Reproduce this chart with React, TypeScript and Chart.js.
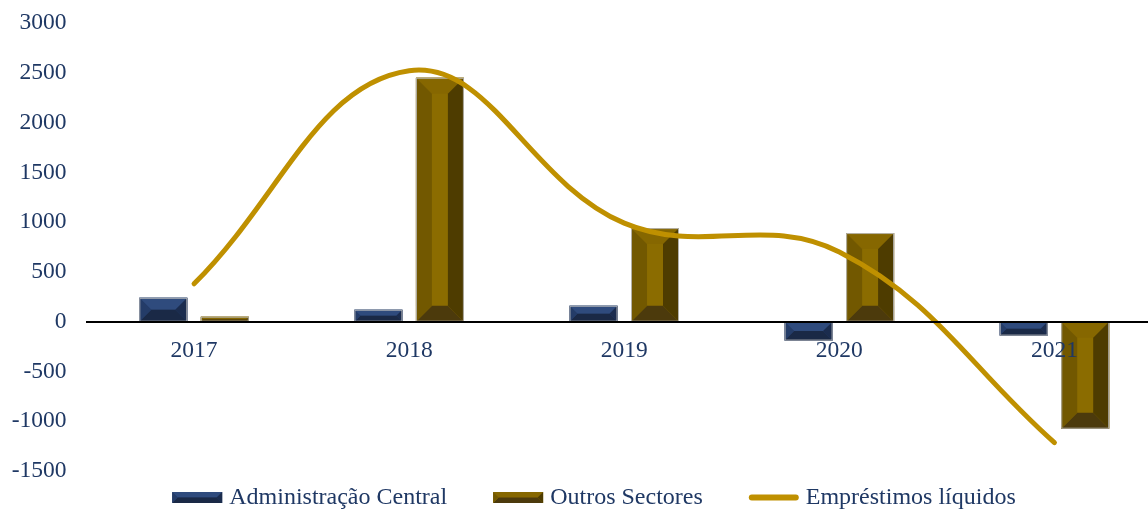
import React, { useEffect, useRef } from 'react';
import { Chart, registerables } from 'chart.js';

Chart.register(...registerables);

// ---- data ----
const categories = ['2017', '2018', '2019', '2020', '2021'];
const adminCentral = [240, 120, 160, -190, -140];
const outrosSectores = [50, 2450, 940, 890, -1075];
const emprestimosLiquidos = [380, 2520, 990, 700, -1215];
const seriesNames = ['Administração Central', 'Outros Sectores', 'Empréstimos líquidos'];
const yMin = -1500;
const yMax = 3000;
const yStep = 500;

// ---- style ----
const FONT = '"Liberation Serif", "Times New Roman", serif';
const FONT_SIZE = 23.5;
const LEGEND_FONT_SIZE = 24;
const TEXT_COLOR = '#1F3864';
const LINE_COLOR = '#BF9000';

type Palette = { front: string; top: string; left: string; right: string; bottom: string };
const adminPalette: Palette = { front: '#253D69', top: '#2F4B7D', left: '#243C68', right: '#1B2C4E', bottom: '#1A2946' };
const outrosPalette: Palette = { front: '#8B6C00', top: '#866700', left: '#725800', right: '#4E3C00', bottom: '#4C3A0C' };

function poly(ctx: CanvasRenderingContext2D, pts: number[][], color: string) {
  ctx.beginPath();
  ctx.moveTo(pts[0][0], pts[0][1]);
  for (let i = 1; i < pts.length; i++) ctx.lineTo(pts[i][0], pts[i][1]);
  ctx.closePath();
  ctx.fillStyle = color;
  ctx.fill();
}

function drawBevel(ctx: CanvasRenderingContext2D, l: number, t: number, r: number, bt: number, pal: Palette, maxB: number, border: boolean) {
  const w = r - l;
  const h = bt - t;
  if (w <= 0 || h <= 0) return;
  const b = Math.max(0, Math.min(maxB, w / 2, h / 2));
  ctx.save();
  ctx.fillStyle = pal.front;
  ctx.fillRect(l, t, w, h);
  poly(ctx, [[l, t], [r, t], [r - b, t + b], [l + b, t + b]], pal.top);
  poly(ctx, [[l, bt], [r, bt], [r - b, bt - b], [l + b, bt - b]], pal.bottom);
  poly(ctx, [[l, t], [l + b, t + b], [l + b, bt - b], [l, bt]], pal.left);
  poly(ctx, [[r, t], [r - b, t + b], [r - b, bt - b], [r, bt]], pal.right);
  if (border) {
    ctx.strokeStyle = 'rgba(190,190,190,0.9)';
    ctx.lineWidth = 1;
    ctx.strokeRect(l + 0.5, t + 0.5, w - 1, h - 1);
  }
  ctx.restore();
}

const bevelPlugin = {
  id: 'bevelBars',
  afterDatasetDraw(chart: any, args: any) {
    const meta = args.meta;
    if (meta.type !== 'bar') return;
    const pal = args.index === 0 ? adminPalette : outrosPalette;
    const ctx = chart.ctx as CanvasRenderingContext2D;
    meta.data.forEach((el: any) => {
      const { x, y, base, width } = el.getProps(['x', 'y', 'base', 'width'], true);
      const l = x - width / 2;
      const r = x + width / 2;
      const t = Math.min(y, base);
      const bt = Math.max(y, base);
      drawBevel(ctx, l, t, r, bt, pal, width / 3, true);
    });
  },
};

const legendPlugin = {
  id: 'customLegend',
  afterDraw(chart: any) {
    const ctx = chart.ctx as CanvasRenderingContext2D;
    ctx.save();
    ctx.font = `${LEGEND_FONT_SIZE}px ${FONT}`;
    const boxW = 50;
    const boxH = 11;
    const gap = 7;
    const spacing = 46;
    const widths = seriesNames.map((n) => ctx.measureText(n).width);
    const total = widths.reduce((a, w) => a + boxW + gap + w, 0) + spacing * (seriesNames.length - 1);
    let x = 594 - total / 2;
    const cy = 497.5;
    seriesNames.forEach((name, i) => {
      if (i === 0) drawBevel(ctx, x, cy - boxH / 2, x + boxW, cy + boxH / 2, adminPalette, boxH / 2, false);
      else if (i === 1) drawBevel(ctx, x, cy - boxH / 2, x + boxW, cy + boxH / 2, outrosPalette, boxH / 2, false);
      else {
        ctx.beginPath();
        ctx.strokeStyle = LINE_COLOR;
        ctx.lineWidth = 6;
        ctx.lineCap = 'round';
        ctx.moveTo(x + 3, cy);
        ctx.lineTo(x + boxW - 3, cy);
        ctx.stroke();
      }
      ctx.fillStyle = TEXT_COLOR;
      ctx.textBaseline = 'middle';
      ctx.textAlign = 'left';
      ctx.fillText(name, x + boxW + gap, cy);
      x += boxW + gap + widths[i] + spacing;
    });
    ctx.restore();
  },
};

export default function App() {
  const ref = useRef<HTMLCanvasElement | null>(null);
  useEffect(() => {
    if (!ref.current) return;
    const chart = new Chart(ref.current, {
      type: 'bar',
      data: {
        labels: categories,
        datasets: [
          {
            type: 'bar',
            label: seriesNames[0],
            data: adminCentral,
            backgroundColor: adminPalette.front,
            borderWidth: 0,
            order: 1,
          },
          {
            type: 'bar',
            label: seriesNames[1],
            data: outrosSectores,
            backgroundColor: outrosPalette.front,
            borderWidth: 0,
            order: 1,
          },
          {
            type: 'line',
            label: seriesNames[2],
            data: emprestimosLiquidos,
            borderColor: LINE_COLOR,
            backgroundColor: LINE_COLOR,
            borderWidth: 5,
            borderCapStyle: 'round',
            pointRadius: 0,
            tension: 0.4,
            fill: false,
            order: 0,
          } as any,
        ],
      },
      options: {
        animation: false,
        responsive: false,
        maintainAspectRatio: false,
        categoryPercentage: 0.572,
        barPercentage: 0.78,
        layout: { padding: { left: 0, right: 0, top: 23, bottom: 39 } },
        plugins: {
          legend: { display: false },
          tooltip: { enabled: false },
        },
        scales: {
          x: {
            type: 'category',
            position: { y: 0 } as any,
            grid: { display: false, drawTicks: false },
            border: { display: true, color: '#000000', width: 2, z: 1 },
            ticks: {
              z: 1,
              color: TEXT_COLOR,
              font: { family: FONT, size: FONT_SIZE },
              padding: 15,
              maxRotation: 0,
            },
          },
          y: {
            type: 'linear',
            min: yMin,
            max: yMax,
            grid: { display: false, drawTicks: false },
            border: { display: false },
            ticks: {
              stepSize: yStep,
              color: TEXT_COLOR,
              font: { family: FONT, size: FONT_SIZE },
              padding: 20,
              callback: (v: any) => String(v),
            },
            afterFit: (s: any) => {
              s.width = 86.5;
              s.paddingTop = 0;
              s.paddingBottom = 0;
            },
          },
        },
      } as any,
      plugins: [bevelPlugin, legendPlugin],
    });
    return () => chart.destroy();
  }, []);

  return (
    <div style={{ position: 'absolute', left: 0, top: 0, width: 1148, height: 510, overflow: 'hidden', background: '#fff' }}>
      <canvas ref={ref} width={1162} height={510} style={{ display: 'block', width: 1162, height: 510 }} />
    </div>
  );
}
